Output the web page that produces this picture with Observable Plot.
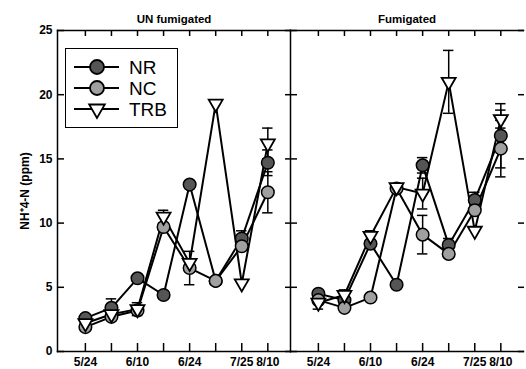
<!DOCTYPE html>
<html><head><meta charset="utf-8">
<script src="https://cdn.jsdelivr.net/npm/d3@7"></script>
<script src="https://cdn.jsdelivr.net/npm/@observablehq/plot@0.6"></script>
<style>
body{margin:0;background:#fff;}
#wrap{position:relative;width:526px;height:369px;font-family:"Liberation Sans",Arial,sans-serif;}
#legend{position:absolute;left:65px;top:48px;width:111px;height:78px;border:1.5px solid #000;background:#fff;}
#legend svg{display:block}
</style></head><body><div id="wrap"></div>
<script>
// ---- data ----
const panels = ["UN fumigated", "Fumigated"];
const sampleIndex = [0, 1, 2, 3, 4, 5, 6, 7];
const tickLabels = ["5/24", "", "6/10", "", "6/24", "", "7/25", "8/10"];
const yTicks = [0, 5, 10, 15, 20, 25];
const seriesNames = ["NR", "NC", "TRB"];

// UN fumigated
const unNR  = [2.6, 3.4, 5.7, 4.4, 13.0, 5.5, 8.8, 14.7];
const unNC  = [1.9, 2.7, 3.2, 9.7, 6.5, 5.5, 8.2, 12.4];
const unTRB = [2.2, 2.9, 3.3, 10.5, 6.9, 19.3, 5.3, 16.2];
const unNRerr  = [0, 0.7, 0, 0, 0, 0, 0.6, 1.0];
const unNCerr  = [0, 0, 0, 0, 1.3, 0, 0, 1.6];
const unTRBerr = [0, 0, 0.5, 0.5, 0, 0, 0, 1.2];

// Fumigated
const fuNR  = [4.5, 4.0, 8.4, 5.2, 14.5, 8.3, 11.8, 16.8];
const fuNC  = [4.0, 3.4, 4.2, 12.7, 9.1, 7.6, 11.0, 15.8];
const fuTRB = [3.8, 4.4, 9.0, 12.8, 12.3, 21.0, 9.4, 18.1];
const fuNRerr  = [0, 0, 0, 0, 0.6, 0.5, 0.6, 2.5];
const fuNCerr  = [0, 0, 0, 0, 1.5, 0, 0, 2.2];
const fuTRBerr = [0.5, 0.4, 0.4, 0, 1.2, 2.45, 0, 0.7];

const seriesColors = ["#555555", "#a0a0a0"];
const yLabel = "NH\u207A4-N (ppm)";

// ---- build table ----
const table = [];
const src = [
  [panels[0], [unNR, unNC, unTRB], [unNRerr, unNCerr, unTRBerr]],
  [panels[1], [fuNR, fuNC, fuTRB], [fuNRerr, fuNCerr, fuTRBerr]]
];
for (const [panel, vals, errs] of src) {
  seriesNames.forEach((s, k) => {
    sampleIndex.forEach(i => table.push({panel, series: s, i, v: vals[k][i], e: errs[k][i]}));
  });
}
const circles = table.filter(d => d.series !== "TRB");
const tris = table.filter(d => d.series === "TRB");
const errRows = table.filter(d => d.e > 0);
const caps = errRows.flatMap(d => [{...d, y: d.v - d.e}, {...d, y: d.v + d.e}]);

const chart = Plot.plot({
  width: 526, height: 369,
  marginLeft: 57, marginRight: 3, marginTop: 30, marginBottom: 18,
  style: {fontFamily: "'Liberation Sans', Arial, sans-serif", fontSize: "12px", fontWeight: "bold", background: "white", color: "black"},
  fx: {domain: panels, padding: 0, label: null},
  x: {domain: [-1.07, 7.87], label: null},
  y: {domain: [0, 25], label: null},
  color: {domain: ["NR", "NC"], range: seriesColors},
  marks: [
    Plot.frame({anchor: "left", strokeWidth: 1.5}),
    Plot.frame({anchor: "top", strokeWidth: 1.5}),
    Plot.frame({anchor: "bottom", strokeWidth: 1.5}),
    Plot.axisFx({anchor: "top", tickSize: 0, tickPadding: 8, label: null, fontSize: 11.5}),
    Plot.axisY({anchor: "left", ticks: yTicks, tickSize: 0, tickPadding: 5, label: yLabel, labelAnchor: "center", labelArrow: "none", labelOffset: 37, fontSize: 12}),
    Plot.axisY({anchor: "left", ticks: yTicks, tickSize: 7, dx: 7, fill: "none", facetAnchor: null, label: null, strokeWidth: 1.5}),
    Plot.axisY({anchor: "right", ticks: yTicks, tickSize: 6, dx: -6, fill: "none", facetAnchor: null, label: null, strokeWidth: 1.5}),
    Plot.axisX({anchor: "bottom", ticks: sampleIndex, tickSize: 0, tickPadding: 6, tickFormat: i => tickLabels[i], label: null}),
    Plot.axisX({anchor: "bottom", ticks: sampleIndex, tickSize: 8, dy: -8, fill: "none", label: null, strokeWidth: 1.5}),
    Plot.axisX({anchor: "top", ticks: sampleIndex, tickSize: 5, dy: 5, fill: "none", label: null, strokeWidth: 1.5}),
    Plot.line(table, {x: "i", y: "v", z: "series", fx: "panel", stroke: "black", strokeWidth: 2}),
    Plot.ruleX(errRows, {x: "i", y1: d => d.v - d.e, y2: d => d.v + d.e, fx: "panel", stroke: "black", strokeWidth: 1.5}),
    Plot.ruleY(caps, {y: "y", x1: d => d.i - 0.2, x2: d => d.i + 0.2, fx: "panel", stroke: "black", strokeWidth: 1.5}),
    Plot.dot(circles, {x: "i", y: "v", fx: "panel", fill: "series", r: 6.3, stroke: "black", strokeWidth: 1.5}),
    Plot.dot(tris, {x: "i", y: "v", fx: "panel", symbol: "triangle", rotate: 180, r: 5.2, fill: "white", stroke: "black", strokeWidth: 1.8})
  ]
});
const wrap = document.getElementById("wrap");
wrap.appendChild(chart);

// legend
const leg = document.createElement("div");
leg.id = "legend";
const ns = "http://www.w3.org/2000/svg";
const svg = document.createElementNS(ns, "svg");
svg.setAttribute("width", 111); svg.setAttribute("height", 78);
const rowY = [18, 39, 60];
seriesNames.forEach((s, k) => {
  const y = rowY[k];
  const ln = document.createElementNS(ns, "line");
  ln.setAttribute("x1", 8); ln.setAttribute("x2", 53); ln.setAttribute("y1", y); ln.setAttribute("y2", y);
  ln.setAttribute("stroke", "black"); ln.setAttribute("stroke-width", 2.2);
  svg.appendChild(ln);
  let m;
  if (s === "TRB") {
    m = document.createElementNS(ns, "path");
    m.setAttribute("d", d3.symbol(d3.symbolTriangle, Math.PI * 5.8 * 5.8)());
    m.setAttribute("transform", `translate(31,${y}) rotate(180)`);
    m.setAttribute("fill", "white");
  } else {
    m = document.createElementNS(ns, "circle");
    m.setAttribute("cx", 31); m.setAttribute("cy", y); m.setAttribute("r", 7);
    m.setAttribute("fill", seriesColors[k]);
  }
  m.setAttribute("stroke", "black"); m.setAttribute("stroke-width", 1.8);
  svg.appendChild(m);
  const t = document.createElementNS(ns, "text");
  t.setAttribute("x", 63); t.setAttribute("y", y + 7);
  t.setAttribute("font-size", 19); t.setAttribute("font-family", "'Liberation Sans', Arial, sans-serif");
  t.textContent = s;
  svg.appendChild(t);
});
leg.appendChild(svg);
wrap.appendChild(leg);
</script></body></html>
